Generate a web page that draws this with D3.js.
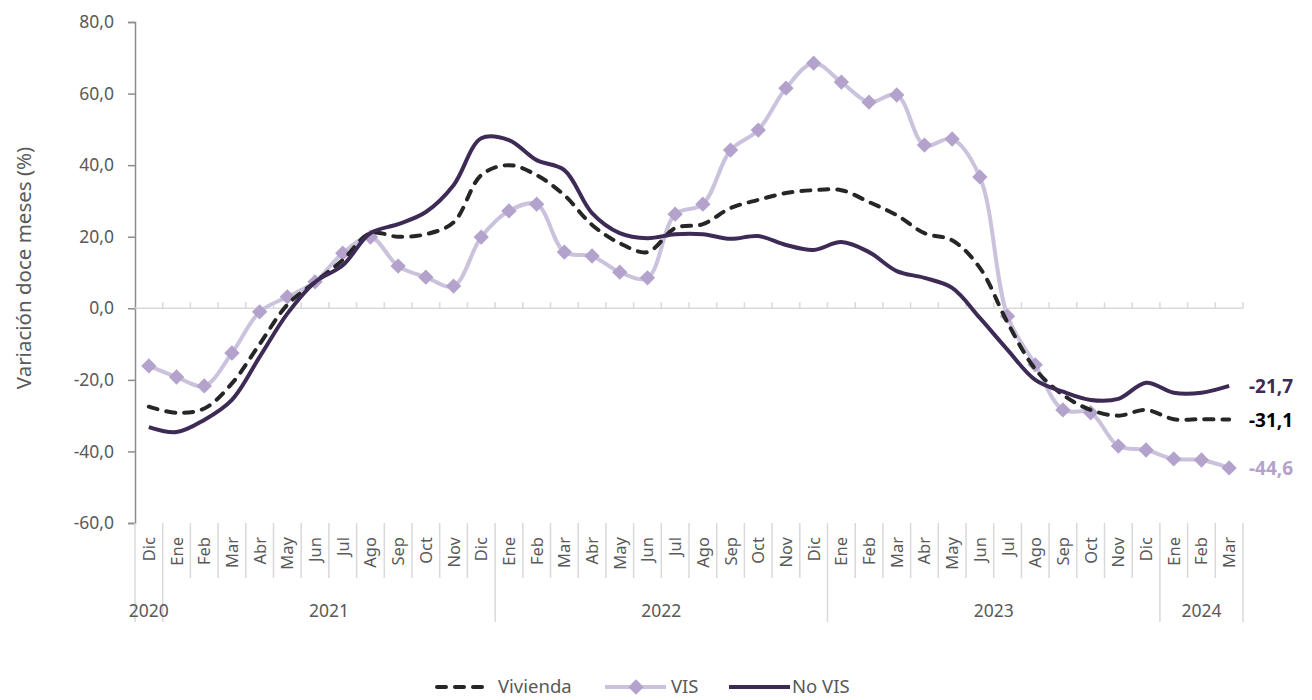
<!DOCTYPE html>
<html>
<head>
<meta charset="utf-8">
<script src="https://cdn.jsdelivr.net/npm/d3@7"></script>
<style>
  body { margin: 0; background: #fff; }
  svg text { font-family: "Noto Sans", "Open Sans", sans-serif; }
</style>
</head>
<body>
<div id="chart"></div>
<script>
// monthly categories, Dic 2020 .. Mar 2024
const months = ["Dic",
  "Ene","Feb","Mar","Abr","May","Jun","Jul","Ago","Sep","Oct","Nov","Dic",
  "Ene","Feb","Mar","Abr","May","Jun","Jul","Ago","Sep","Oct","Nov","Dic",
  "Ene","Feb","Mar","Abr","May","Jun","Jul","Ago","Sep","Oct","Nov","Dic",
  "Ene","Feb","Mar"];
const years = [
  { label: "2020", from: 0, to: 1 },
  { label: "2021", from: 1, to: 13 },
  { label: "2022", from: 13, to: 25 },
  { label: "2023", from: 25, to: 37 },
  { label: "2024", from: 37, to: 40 }
];

const vivienda = [-27.5,
  -29.2,-28.0,-21.0,-10.0,1.0,7.3,13.5,21.0,20.0,20.7,24.0,37.2,
  40.0,37.2,31.6,23.3,18.2,15.7,22.4,23.5,28.0,30.3,32.2,33.0,
  33.0,29.7,26.0,21.0,19.0,11.3,-4.0,-17.0,-24.2,-28.4,-30.0,-28.4,
  -31.0,-31.0,-31.1];
const vis = [-16.1,
  -19.2,-21.7,-12.5,-1.0,3.2,7.4,15.4,19.9,11.8,8.7,6.2,19.9,
  27.2,29.1,15.7,14.6,10.1,8.5,26.3,29.1,44.2,49.8,61.5,68.5,
  63.2,57.6,59.6,45.6,47.3,36.7,-2.2,-15.8,-28.4,-29.2,-38.5,-39.6,
  -42.1,-42.4,-44.6];
const noVis = [-33.2,
  -34.6,-31.2,-25.6,-13.6,-1.5,7.3,12.0,21.0,23.5,26.9,34.4,47.5,
  47.0,41.4,38.6,26.6,21.0,19.6,20.7,20.7,19.4,20.2,17.7,16.3,
  18.5,15.7,10.4,8.5,5.7,-2.7,-11.6,-20.0,-23.3,-25.6,-25.3,-20.8,
  -23.6,-23.6,-21.7];
const yTicks = [-60, -40, -20, 0, 20, 40, 60, 80];

const W = 1312, H = 700;
const plotL = 135, plotR = 1243, plotT = 22, plotB = 523;

const svg = d3.select("#chart").append("svg")
  .attr("width", W).attr("height", H);

const x = d3.scaleBand().domain(d3.range(months.length)).range([plotL, plotR]).padding(0);
const y = d3.scaleLinear().domain([-60, 80]).range([plotB, plotT]);
const cx = i => x(i) + x.bandwidth() / 2;
// comma decimals, plain hyphen for negatives
const fmt = v => d3.format(".1f")(v).replace(".", ",").replace("\u2212", "-");

// y axis
const yAxis = d3.axisLeft(y).tickValues(yTicks).tickSize(7).tickPadding(14).tickFormat(fmt);
const gy = svg.append("g").attr("transform", `translate(${plotL},0)`).call(yAxis);
gy.select(".domain").attr("stroke", "#8c8c8c").attr("stroke-width", 1.5);
gy.selectAll(".tick line").attr("stroke", "#8c8c8c").attr("stroke-width", 1.5);
gy.selectAll(".tick text").attr("fill", "#595959").style("font-size", "17.5px");

svg.append("text")
  .attr("transform", `translate(31,268) rotate(-90)`)
  .attr("text-anchor", "middle")
  .attr("fill", "#595959")
  .style("font-size", "20.5px")
  .text("Variación doce meses (%)");

// zero line with small category ticks
svg.append("line")
  .attr("x1", plotL).attr("x2", plotR)
  .attr("y1", y(0)).attr("y2", y(0))
  .attr("stroke", "#d9d9d9").attr("stroke-width", 1.5);
svg.selectAll(".zt").data(d3.range(1, months.length + 1)).enter().append("line")
  .attr("x1", i => plotL + i * x.bandwidth()).attr("x2", i => plotL + i * x.bandwidth())
  .attr("y1", y(0) - 6).attr("y2", y(0))
  .attr("stroke", "#d9d9d9").attr("stroke-width", 1.5);

// category separators below the plot
const yearEdges = new Set(years.flatMap(d => [d.from, d.to]));
svg.selectAll(".sep").data(d3.range(0, months.length + 1)).enter().append("line")
  .attr("x1", i => plotL + i * x.bandwidth()).attr("x2", i => plotL + i * x.bandwidth())
  .attr("y1", plotB).attr("y2", i => yearEdges.has(i) ? 622 : 578)
  .attr("stroke", "#d9d9d9").attr("stroke-width", 1.5);

svg.selectAll(".mlab").data(months).enter().append("text")
  .attr("transform", (d, i) => `translate(${cx(i) + 6},537) rotate(-90)`)
  .attr("text-anchor", "end")
  .attr("fill", "#595959")
  .style("font-size", "16.5px")
  .text(d => d);

svg.selectAll(".ylab").data(years).enter().append("text")
  .attr("x", d => plotL + (d.from + d.to) / 2 * x.bandwidth())
  .attr("y", 617)
  .attr("text-anchor", "middle")
  .attr("fill", "#595959")
  .style("font-size", "17.5px")
  .text(d => d.label);

// series
const line = d3.line().x((d, i) => cx(i)).y(d => y(d)).curve(d3.curveCatmullRom.alpha(0.5));

svg.append("path").datum(vis)
  .attr("d", line).attr("fill", "none")
  .attr("stroke", "#cbc2dd").attr("stroke-width", 4);
const diamond = d3.symbol().type(d3.symbolDiamond2).size(150);
svg.selectAll(".mk").data(vis).enter().append("path")
  .attr("d", diamond)
  .attr("transform", (d, i) => `translate(${cx(i)},${y(d)})`)
  .attr("fill", "#b3a2cb");

svg.append("path").datum(vivienda)
  .attr("d", line).attr("fill", "none")
  .attr("stroke", "#262626").attr("stroke-width", 4)
  .attr("stroke-dasharray", "9,9").attr("stroke-linecap", "round");

svg.append("path").datum(noVis)
  .attr("d", line).attr("fill", "none")
  .attr("stroke", "#3d2b56").attr("stroke-width", 4);

// end labels
const last = months.length - 1;
const endLabels = [
  { v: noVis[last], color: "#3d2b56" },
  { v: vivienda[last], color: "#000000" },
  { v: vis[last], color: "#b3a2cb" }
];
svg.selectAll(".end").data(endLabels).enter().append("text")
  .attr("x", 1249).attr("y", d => y(d.v) + 7)
  .attr("fill", d => d.color)
  .style("font-size", "19px").style("font-weight", "bold")
  .text(d => fmt(d.v));

// legend
const legY = 687;
const lg = svg.append("g");
lg.append("line").attr("x1", 437).attr("x2", 490).attr("y1", legY).attr("y2", legY)
  .attr("stroke", "#262626").attr("stroke-width", 4)
  .attr("stroke-dasharray", "9,9").attr("stroke-linecap", "round");
lg.append("text").attr("x", 498).attr("y", legY + 6).attr("fill", "#595959")
  .style("font-size", "18.5px").text("Vivienda");
lg.append("line").attr("x1", 605).attr("x2", 666).attr("y1", legY).attr("y2", legY)
  .attr("stroke", "#cbc2dd").attr("stroke-width", 4);
lg.append("path").attr("d", diamond).attr("transform", `translate(636,${legY})`).attr("fill", "#b3a2cb");
lg.append("text").attr("x", 671).attr("y", legY + 6).attr("fill", "#595959")
  .style("font-size", "18.5px").text("VIS");
lg.append("line").attr("x1", 729).attr("x2", 790).attr("y1", legY).attr("y2", legY)
  .attr("stroke", "#3d2b56").attr("stroke-width", 4);
lg.append("text").attr("x", 792).attr("y", legY + 6).attr("fill", "#595959")
  .style("font-size", "18.5px").text("No VIS");
</script>
</body>
</html>
